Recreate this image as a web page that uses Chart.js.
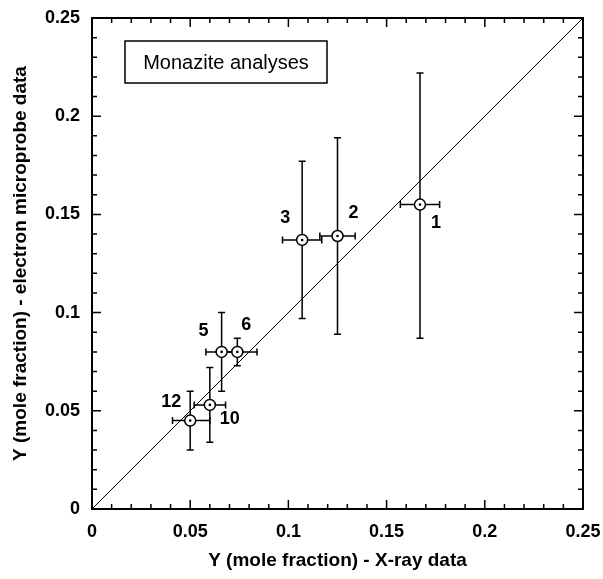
<!DOCTYPE html>
<html>
<head>
<meta charset="utf-8">
<title>Monazite analyses</title>
<script src="https://cdn.jsdelivr.net/npm/chart.js@4.4.1/dist/chart.umd.min.js"></script>
<style>
  html, body { margin: 0; padding: 0; background: #fff; }
  canvas { display: block; }
</style>
</head>
<body>
<canvas id="chart" width="603" height="579"></canvas>
<script>
// Sample numbers as printed next to each point
const sampleIds = ['1', '2', '3', '5', '6', '10', '12'];

// X-ray data (x axis) with error range
const xrayY = [0.167, 0.125, 0.107, 0.066, 0.074, 0.060, 0.050];
const xrayLow = [0.157, 0.116, 0.097, 0.058, 0.065, 0.052, 0.041];
const xrayHigh = [0.177, 0.134, 0.117, 0.074, 0.084, 0.068, 0.060];

// Electron microprobe data (y axis) with error range
const probeY = [0.155, 0.139, 0.137, 0.080, 0.080, 0.053, 0.045];
const probeLow = [0.087, 0.089, 0.097, 0.060, 0.073, 0.034, 0.030];
const probeHigh = [0.222, 0.189, 0.177, 0.100, 0.087, 0.072, 0.060];

// 1:1 reference line
const oneToOneX = [0, 0.25];
const oneToOneY = [0, 0.25];

const FONT = '"Liberation Sans", Arial, Helvetica, sans-serif';

const toPoints = (xs, ys) => xs.map((v, i) => ({ x: v, y: ys[i] }));
const isMajor = v => Math.round(v * 100) % 5 === 0;
const tickLabel = v => isMajor(v) ? String(+v.toFixed(2)) : '';

// Where each sample number sits relative to its point (pixels)
const labelOffsets = {
    '1': [16, 18], '2': [16, -23], '3': [-17, -22],
    '5': [-18, -21], '6': [9, -27], '10': [20, 14], '12': [-19, -19]
};

// Error bars, drawn under the circles
const errorBars = {
    id: 'errorBars',
    beforeDatasetsDraw(chart) {
        const { ctx, scales: { x, y } } = chart;
        const cap = 3.5;
        ctx.save();
        ctx.strokeStyle = '#000';
        ctx.lineWidth = 1.5;
        sampleIds.forEach((_, i) => {
            const cx = x.getPixelForValue(xrayY[i]);
            const cy = y.getPixelForValue(probeY[i]);
            const x0 = x.getPixelForValue(xrayLow[i]);
            const x1 = x.getPixelForValue(xrayHigh[i]);
            const y0 = y.getPixelForValue(probeLow[i]);
            const y1 = y.getPixelForValue(probeHigh[i]);
            ctx.beginPath();
            // vertical
            ctx.moveTo(cx, y0); ctx.lineTo(cx, y1);
            ctx.moveTo(cx - cap, y0); ctx.lineTo(cx + cap, y0);
            ctx.moveTo(cx - cap, y1); ctx.lineTo(cx + cap, y1);
            // horizontal
            ctx.moveTo(x0, cy); ctx.lineTo(x1, cy);
            ctx.moveTo(x0, cy - cap); ctx.lineTo(x0, cy + cap);
            ctx.moveTo(x1, cy - cap); ctx.lineTo(x1, cy + cap);
            ctx.stroke();
        });
        ctx.restore();
    }
};

// Frame, inward ticks on all four sides, point labels and the text box
const decorations = {
    id: 'decorations',
    afterDatasetsDraw(chart) {
        const { ctx, chartArea: a, scales: { x, y } } = chart;
        ctx.save();
        ctx.strokeStyle = '#000';
        ctx.lineWidth = 1.5;
        ctx.beginPath();
        x.ticks.forEach(t => {
            const px = x.getPixelForValue(t.value);
            const len = isMajor(t.value) ? 9 : 5;
            ctx.moveTo(px, a.bottom); ctx.lineTo(px, a.bottom - len);
            ctx.moveTo(px, a.top); ctx.lineTo(px, a.top + len);
        });
        y.ticks.forEach(t => {
            const py = y.getPixelForValue(t.value);
            const len = isMajor(t.value) ? 9 : 5;
            ctx.moveTo(a.left, py); ctx.lineTo(a.left + len, py);
            ctx.moveTo(a.right, py); ctx.lineTo(a.right - len, py);
        });
        ctx.stroke();

        ctx.lineWidth = 2;
        ctx.strokeRect(a.left, a.top, a.right - a.left, a.bottom - a.top);

        // sample numbers
        ctx.fillStyle = '#000';
        ctx.font = 'bold 18px ' + FONT;
        ctx.textAlign = 'center';
        ctx.textBaseline = 'middle';
        sampleIds.forEach((id, i) => {
            const [dx, dy] = labelOffsets[id];
            ctx.fillText(id, x.getPixelForValue(xrayY[i]) + dx, y.getPixelForValue(probeY[i]) + dy);
        });

        // "Monazite analyses" box
        const bx = a.left + 33, by = a.top + 23, bw = 202, bh = 42;
        ctx.fillStyle = '#fff';
        ctx.fillRect(bx, by, bw, bh);
        ctx.lineWidth = 1.5;
        ctx.strokeRect(bx, by, bw, bh);
        ctx.fillStyle = '#000';
        ctx.font = '20px ' + FONT;
        ctx.fillText('Monazite analyses', bx + bw / 2, by + bh / 2 + 1);
        ctx.restore();
    }
};

const axisCommon = {
    type: 'linear',
    min: 0,
    max: 0.25,
    grid: { display: false, drawTicks: false },
    border: { display: false },
    ticks: {
        stepSize: 0.01,
        autoSkip: false,
        maxRotation: 0,
        minRotation: 0,
        padding: 12,
        color: '#000',
        font: { family: FONT, size: 18, weight: 'bold' },
        callback: tickLabel
    }
};

const ctx = document.getElementById('chart').getContext('2d');
new Chart(ctx, {
    type: 'scatter',
    data: {
        datasets: [
            {
                label: 'centre dots',
                data: toPoints(xrayY, probeY),
                pointRadius: 1.3,
                pointBackgroundColor: '#000',
                pointBorderWidth: 0
            },
            {
                label: 'Monazite analyses',
                data: toPoints(xrayY, probeY),
                pointStyle: 'circle',
                pointRadius: 5.5,
                pointBackgroundColor: '#fff',
                pointBorderColor: '#000',
                pointBorderWidth: 1.5
            },
            {
                label: '1:1',
                type: 'line',
                data: toPoints(oneToOneX, oneToOneY),
                borderColor: '#000',
                borderWidth: 1,
                pointRadius: 0,
                fill: false
            }
        ]
    },
    options: {
        responsive: false,
        animation: false,
        layout: { padding: { top: 18, right: 20, left: 0, bottom: 0 } },
        plugins: {
            legend: { display: false },
            tooltip: { enabled: false }
        },
        scales: {
            x: {
                ...axisCommon,
                position: 'bottom',
                afterFit: scale => {
                    scale.height = 70;
                    scale.paddingLeft = 0;
                    scale.paddingRight = 0;
                },
                title: {
                    display: true,
                    text: 'Y (mole fraction) - X-ray data',
                    color: '#000',
                    font: { family: FONT, size: 19, weight: 'bold' },
                    padding: { top: 0, bottom: 7 }
                }
            },
            y: {
                ...axisCommon,
                position: 'left',
                afterFit: scale => {
                    scale.width = 92;
                    scale.paddingTop = 0;
                    scale.paddingBottom = 0;
                },
                title: {
                    display: true,
                    text: 'Y (mole fraction) - electron microprobe data',
                    color: '#000',
                    font: { family: FONT, size: 19, weight: 'bold' },
                    padding: { top: 9, bottom: 0 }
                }
            }
        }
    },
    plugins: [errorBars, decorations]
});
</script>
</body>
</html>
